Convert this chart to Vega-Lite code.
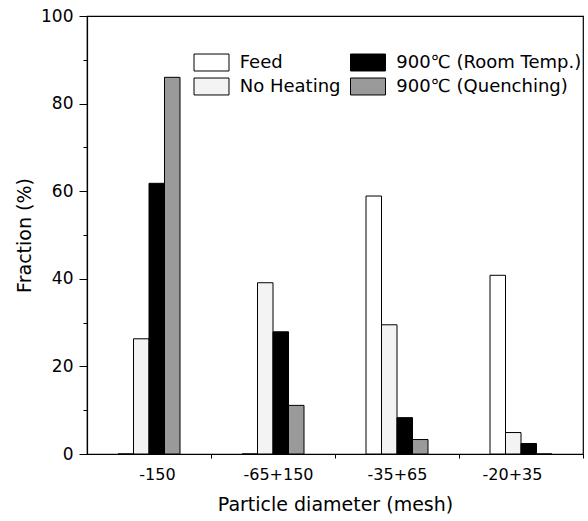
{
  "$schema": "https://vega.github.io/schema/vega-lite/v6.json",
  "autosize": {"type": "none"},
  "padding": {"left": 87, "top": 16, "right": 5, "bottom": 67},
  "width": 496,
  "height": 438,
  "background": "white",
  "config": {
    "font": "DejaVu Sans",
    "view": {"stroke": "black", "strokeWidth": 1.2},
    "axis": {"domainColor": "black", "tickColor": "black", "labelColor": "black", "titleColor": "black", "grid": false, "domainWidth": 1.2, "tickWidth": 1}
  },
  "data": {
    "values": [
      {"size": "-150", "series": "Feed", "fraction": 0},
      {"size": "-150", "series": "No Heating", "fraction": 26.3},
      {"size": "-150", "series": "900℃ (Room Temp.)", "fraction": 61.8},
      {"size": "-150", "series": "900℃ (Quenching)", "fraction": 86.0},
      {"size": "-65+150", "series": "Feed", "fraction": 0},
      {"size": "-65+150", "series": "No Heating", "fraction": 39.1},
      {"size": "-65+150", "series": "900℃ (Room Temp.)", "fraction": 27.9},
      {"size": "-65+150", "series": "900℃ (Quenching)", "fraction": 11.1},
      {"size": "-35+65", "series": "Feed", "fraction": 58.9},
      {"size": "-35+65", "series": "No Heating", "fraction": 29.5},
      {"size": "-35+65", "series": "900℃ (Room Temp.)", "fraction": 8.3},
      {"size": "-35+65", "series": "900℃ (Quenching)", "fraction": 3.3},
      {"size": "-20+35", "series": "Feed", "fraction": 40.8},
      {"size": "-20+35", "series": "No Heating", "fraction": 4.9},
      {"size": "-20+35", "series": "900℃ (Room Temp.)", "fraction": 2.4},
      {"size": "-20+35", "series": "900℃ (Quenching)", "fraction": 0}
    ]
  },
  "mark": {"type": "bar", "stroke": "black", "strokeWidth": 1},
  "encoding": {
    "x": {
      "field": "size",
      "type": "nominal",
      "sort": ["-150", "-65+150", "-35+65", "-20+35"],
      "scale": {"paddingInner": 0.5, "paddingOuter": 0.25},
      "axis": {
        "title": "Particle diameter (mesh)",
        "titleFontSize": 19,
        "titleFontWeight": "normal",
        "titlePadding": 13,
        "labelFontSize": 16,
        "labelAngle": 0,
        "labelPadding": 8,
        "tickSize": 4,
        "tickOffset": 62,
        "labelOffset": {
          "condition": [
            {"test": "datum.value === '-150'", "value": -54},
            {"test": "datum.value === '-65+150'", "value": -57},
            {"test": "datum.value === '-20+35'", "value": -71}
          ],
          "value": -62
        }
      }
    },
    "xOffset": {
      "field": "series",
      "type": "nominal",
      "sort": ["Feed", "No Heating", "900℃ (Room Temp.)", "900℃ (Quenching)"],
      "scale": {"paddingInner": 0, "paddingOuter": 0}
    },
    "y": {
      "field": "fraction",
      "type": "quantitative",
      "scale": {"domain": [0, 100], "nice": false},
      "axis": {
        "title": "Fraction (%)",
        "titleFontSize": 19,
        "titleFontWeight": "normal",
        "titlePadding": 6,
        "labelFontSize": 17,
        "labelPadding": 6,
        "values": [0, 10, 20, 30, 40, 50, 60, 70, 80, 90, 100],
        "labelExpr": "datum.value % 20 === 0 ? datum.label : ''",
        "tickSize": {"condition": {"test": "datum.value % 20 !== 0", "value": 4}, "value": 8}
      }
    },
    "fill": {
      "field": "series",
      "type": "nominal",
      "scale": {
        "domain": ["Feed", "No Heating", "900℃ (Room Temp.)", "900℃ (Quenching)"],
        "range": ["#ffffff", "#f3f3f3", "#000000", "#9a9a9a"]
      },
      "legend": {
        "title": null,
        "orient": "none",
        "legendX": 115,
        "legendY": 37,
        "columns": 2,
        "gridAlign": "each",
        "columnPadding": 7.5,
        "rowPadding": 3,
        "padding": 0,
        "labelFontSize": 18,
        "labelOffset": 18.75,
        "labelLimit": 300,
        "symbolType": "M-2,-0.97H2V0.97H-2Z",
        "symbolSize": 306,
        "symbolStrokeColor": "black",
        "symbolStrokeWidth": 1,
        "symbolOpacity": 1
      }
    }
  }
}
